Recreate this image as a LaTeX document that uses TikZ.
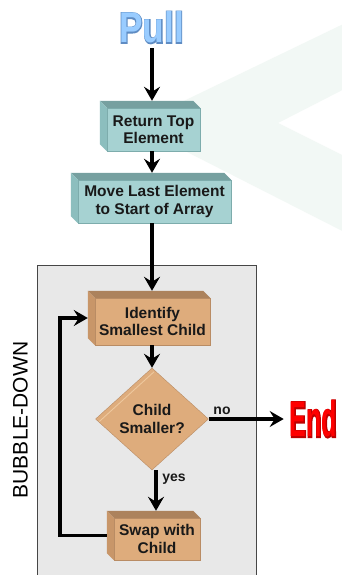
\documentclass[tikz,border=0pt]{standalone}
\usepackage{fontspec}
\usepackage{graphicx}
\setmainfont{Liberation Sans}
\newfontfamily\headfill{Liberation Sans Bold}
\newfontfamily\headol{Liberation Sans Bold}[FakeBold=5]
\usetikzlibrary{arrows.meta,calc,shapes.geometric}
\definecolor{tealfront}{RGB}{166,210,210}
\definecolor{tealtop}{RGB}{118,160,160}
\definecolor{tealside}{RGB}{140,190,190}
\definecolor{tealedge}{RGB}{125,172,172}
\definecolor{tanfront}{RGB}{222,172,124}
\definecolor{tantop}{RGB}{172,130,92}
\definecolor{tanside}{RGB}{200,150,105}
\definecolor{tanedge}{RGB}{185,140,100}
\definecolor{tanhl}{RGB}{238,200,158}
\definecolor{chev}{RGB}{242,248,245}
\definecolor{bggray}{RGB}{232,232,232}
\definecolor{frame}{RGB}{70,70,70}
\definecolor{pullfill}{RGB}{153,204,255}
\definecolor{pullol}{RGB}{95,140,195}
\definecolor{endfill}{RGB}{255,0,0}
\definecolor{endol}{RGB}{190,0,0}
\newcommand\depthfaces[3]{%
  \fill[#2] (#1.north west) -- ++(-7,-7) -- ($(#1.north east)+(-7,-7)$) -- (#1.north east) -- cycle;
  \fill[#3] (#1.north west) -- ++(-7,-7) -- ($(#1.south west)+(-7,-7)$) -- (#1.south west) -- cycle;
}
\begin{document}
\begin{tikzpicture}[x=1pt,y=-1pt,
  arr/.style={line width=3.2pt,-{Stealth[length=14pt,width=16pt,inset=5pt]}},
  lbl/.style={font=\bfseries\fontsize{15.5}{17.5}\selectfont,align=center,text=black!90,inner sep=0pt},
  tealbox/.style={lbl,fill=tealfront,draw=tealedge,line width=0.4pt},
  tanbox/.style={lbl,fill=tanfront,draw=tanedge,line width=0.4pt},
  small/.style={font=\bfseries\fontsize{14}{14}\selectfont,text=black!90,inner sep=0pt}
]
\useasboundingbox (0,0) rectangle (342,575);
\clip (0,0) rectangle (342,575);
\fill[white] (0,0) rectangle (342,575);
% faint background chevron
\fill[chev] (134,125) -- (360,16) -- (360,81) -- (278,123) -- (360,164) -- (360,240) -- cycle;
% bubble-down frame
\filldraw[fill=bggray,draw=frame,line width=1pt] (37,265) rectangle (256,590);
\node[font=\fontsize{21}{21}\selectfont,rotate=90,inner sep=0pt] (bd) at (20.5,420) {BUBBLE-DOWN};

% titles
\node[inner sep=0pt] (pull) at (151.5,27.5)
  {\fontsize{43}{43}\selectfont\scalebox{0.82}[1]{\makebox[0pt][l]{\color{pullol}\headol Pull}\color{pullfill}\headfill Pull}};
\node[inner sep=0pt] (endn) at (313.5,419)
  {\fontsize{50}{50}\selectfont\scalebox{0.5}[1]{\makebox[0pt][l]{\color{endol}\headol End}\color{endfill}\headfill End}};

% boxes
\node[tealbox,minimum width=93pt,minimum height=43pt] (b1) at (153.5,129.5) {Return Top\\Element};
\depthfaces{b1}{tealtop}{tealside}
\node[tealbox,minimum width=153pt,minimum height=43pt] (b2) at (154.5,201.5) {Move Last Element\\to Start of Array};
\depthfaces{b2}{tealtop}{tealside}
\node[tanbox,minimum width=115pt,minimum height=47pt] (b3) at (152.5,321.5) {Identify\\Smallest Child};
\depthfaces{b3}{tantop}{tanside}
\node[tanbox,minimum width=86pt,minimum height=42pt] (b4) at (157,539) {Swap with\\Child};
\depthfaces{b4}{tantop}{tanside}
\node[lbl,diamond,fill=tanfront,draw=tanedge,line width=0.4pt,minimum width=113pt,minimum height=102pt] (d) at (152,419) {Child\\Smaller?};
\draw[tanhl,line width=0.9pt] ($(d.north)+(2,4)$) -- ($(d.west)+(4,2.5)$);

% helper coordinates
\coordinate (col) at (152,0);
\coordinate (col2) at (156,0);
\coordinate (lp) at (60,0);
\coordinate (b1t) at ($(b1.north)+(0,-7)$);
\coordinate (b2t) at ($(b2.north)+(0,-7)$);
\coordinate (b3t) at ($(b3.north)+(0,-7)$);
\coordinate (b4t) at ($(b4.north)+(0,-7)$);
\coordinate (b3l) at ($(b3.west)+(-7,-3.5)$);
\coordinate (b4l) at ($(b4.west)+(-7,-3.5)$);

% connectors
\draw[arr,shorten <=5pt] (pull.south -| col) -- (b1t -| col);
\draw[arr] (b1.south -| col) -- (b2t -| col);
\draw[arr] (b2.south -| col) -- (b3t -| col);
\draw[arr] (b3.south -| col) -- (d.north -| col);
\draw[arr,shorten >=6pt] (d.east) -- (endn.west);
\draw[arr] (d.south -| col2) -- (b4t -| col2);
\draw[arr] (b4l) -| (lp |- b3l) -- (b3l);

% labels
\node[small] (no) at (222,411) {no};
\node[small] (yes) at (174,479) {yes};
\end{tikzpicture}
\end{document}
